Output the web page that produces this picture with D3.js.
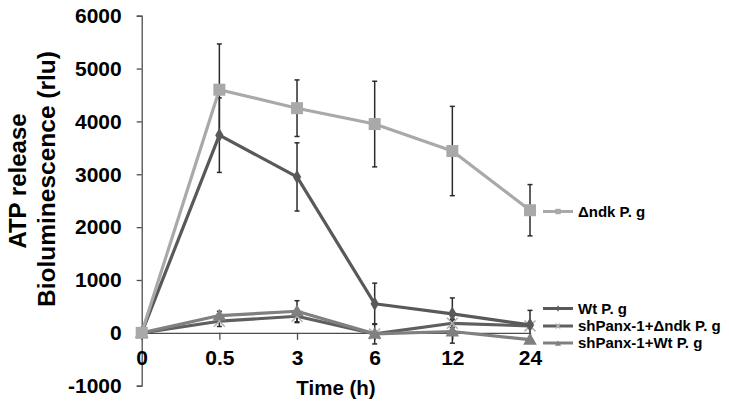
<!DOCTYPE html>
<html>
<head>
<meta charset="utf-8">
<script src="https://cdn.jsdelivr.net/npm/d3@7"></script>
<style>
  html, body { margin: 0; padding: 0; background: #fff; }
  svg { display: block; font-family: "Liberation Sans", Arial, sans-serif; font-weight: bold; }
</style>
</head>
<body>
<svg id="chart" width="729" height="407"></svg>
<script>
const categories = ["0", "0.5", "3", "6", "12", "24"];
const yTicks = [-1000, 0, 1000, 2000, 3000, 4000, 5000, 6000];

const seriesNames = ["Δndk P. g", "Wt P. g", "shPanx-1+Δndk P. g", "shPanx-1+Wt P. g"];
const ndkValues      = [0, 4600, 4250, 3950, 3440, 2320];
const ndkErrors      = [0, 865, 535, 810, 845, 485];
const wtValues       = [0, 3740, 2950, 550, 360, 150];
const wtErrors       = [0, 705, 645, 390, 300, 275];
const shNdkValues    = [0, 220, 314, -20, 181, 131];
const shNdkErrors    = [0, 100, 120, 0, 80, 0];
const shWtValues     = [0, 327, 408, -20, 25, -130];
const shWtErrors     = [0, 80, 200, 190, 220, 0];

const series = [
  { name: seriesNames[2], values: shNdkValues, errors: shNdkErrors, color: "#5f5f5f", markerColor: "#b0b0b0", marker: "x", legendY: 326 },
  { name: seriesNames[3], values: shWtValues, errors: shWtErrors, color: "#808080", markerColor: "#808080", marker: "triangle", legendY: 343 },
  { name: seriesNames[1], values: wtValues, errors: wtErrors, color: "#595959", markerColor: "#595959", marker: "diamond", legendY: 308.5 },
  { name: seriesNames[0], values: ndkValues, errors: ndkErrors, color: "#a9a9a9", markerColor: "#a9a9a9", marker: "square", legendY: 211.5 }
];

const svg = d3.select("#chart");
const x = d3.scalePoint().domain(categories).range([141.7, 530]).padding(0);
const y = d3.scaleLinear().domain([-1000, 6000]).range([385.7, 15.7]);
const axisColor = "#4d4d4d";

// Y axis
const yAxis = svg.append("g").attr("transform", "translate(141.7,0)")
  .call(d3.axisLeft(y).tickValues(yTicks).tickSize(5).tickPadding(15).tickFormat(d => String(d)));
yAxis.select(".domain").attr("stroke", axisColor).attr("stroke-width", 1.3);
yAxis.selectAll(".tick line").attr("stroke", axisColor).attr("stroke-width", 1.3);
yAxis.selectAll(".tick text").attr("fill", "#000").style("font-size", "21px").style("font-weight", "bold")
  .attr("font-family", "Liberation Sans, Arial, sans-serif");

// X axis at y=0
const xAxis = svg.append("g").attr("transform", `translate(0,${y(0)})`)
  .call(d3.axisBottom(x).tickSize(7).tickSizeOuter(0).tickPadding(10));
xAxis.select(".domain").attr("stroke", axisColor).attr("stroke-width", 1.3);
xAxis.selectAll(".tick line").attr("stroke", axisColor).attr("stroke-width", 1.3);
xAxis.selectAll(".tick text").attr("fill", "#000").style("font-size", "21px").style("font-weight", "bold")
  .attr("font-family", "Liberation Sans, Arial, sans-serif");

// Axis titles
svg.append("text").attr("x", 336).attr("y", 395).attr("text-anchor", "middle")
  .style("font-size", "20.5px").text("Time (h)");
svg.append("text").attr("transform", "translate(26,181) rotate(-90)").attr("text-anchor", "middle")
  .style("font-size", "24px").text("ATP release");
svg.append("text").attr("transform", "translate(55,179) rotate(-90)").attr("text-anchor", "middle")
  .style("font-size", "24.5px").text("Bioluminescence (rlu)");

function drawMarker(g, type, cx, cy, color, scale) {
  const s = scale || 1;
  if (type === "square") {
    g.append("rect").attr("x", cx - 6 * s).attr("y", cy - 6 * s).attr("width", 12 * s).attr("height", 12 * s).attr("fill", color);
  } else if (type === "diamond") {
    g.append("path").attr("d", d3.symbol(d3.symbolDiamond, 60 * s * s)()).attr("transform", `translate(${cx},${cy})`).attr("fill", color);
  } else if (type === "triangle") {
    g.append("path").attr("d", d3.symbol(d3.symbolTriangle, 80 * s * s)()).attr("transform", `translate(${cx},${cy + 1})`).attr("fill", color);
  } else if (type === "x") {
    g.append("path").attr("d", d3.symbol(d3.symbolX, 80 * s * s)()).attr("transform", `translate(${cx},${cy})`)
      .attr("fill", "none").attr("stroke", color).attr("stroke-width", 1.5);
  }
}

const line = d3.line().x((d, i) => x(categories[i])).y(d => y(d));

// Error bars
const errG = svg.append("g");
series.forEach(s => {
  s.values.forEach((v, i) => {
    const e = s.errors[i];
    if (!e) return;
    const cx = x(categories[i]);
    errG.append("line").attr("x1", cx).attr("x2", cx).attr("y1", y(v + e)).attr("y2", y(v - e))
      .attr("stroke", "#2b2b2b").attr("stroke-width", 1.5);
    [v + e, v - e].forEach(t => {
      errG.append("line").attr("x1", cx - 2.5).attr("x2", cx + 2.5).attr("y1", y(t)).attr("y2", y(t))
        .attr("stroke", "#2b2b2b").attr("stroke-width", 1.5);
    });
  });
});

// Lines and markers
series.forEach(s => {
  const g = svg.append("g");
  g.append("path").datum(s.values).attr("d", line).attr("fill", "none")
    .attr("stroke", s.color).attr("stroke-width", 3.2).attr("stroke-linejoin", "round");
  s.values.forEach((v, i) => drawMarker(g, s.marker, x(categories[i]), y(v), s.markerColor, 1));
});

// Legend
series.forEach(s => {
  const g = svg.append("g");
  g.append("line").attr("x1", 543).attr("x2", 573).attr("y1", s.legendY).attr("y2", s.legendY)
    .attr("stroke", s.color).attr("stroke-width", 3);
  drawMarker(g, s.marker, 558, s.legendY, s.markerColor, 0.45);
  g.append("text").attr("x", 578).attr("y", s.legendY).attr("dy", "0.36em")
    .style("font-size", "15px").text(s.name);
});
</script>
</body>
</html>
